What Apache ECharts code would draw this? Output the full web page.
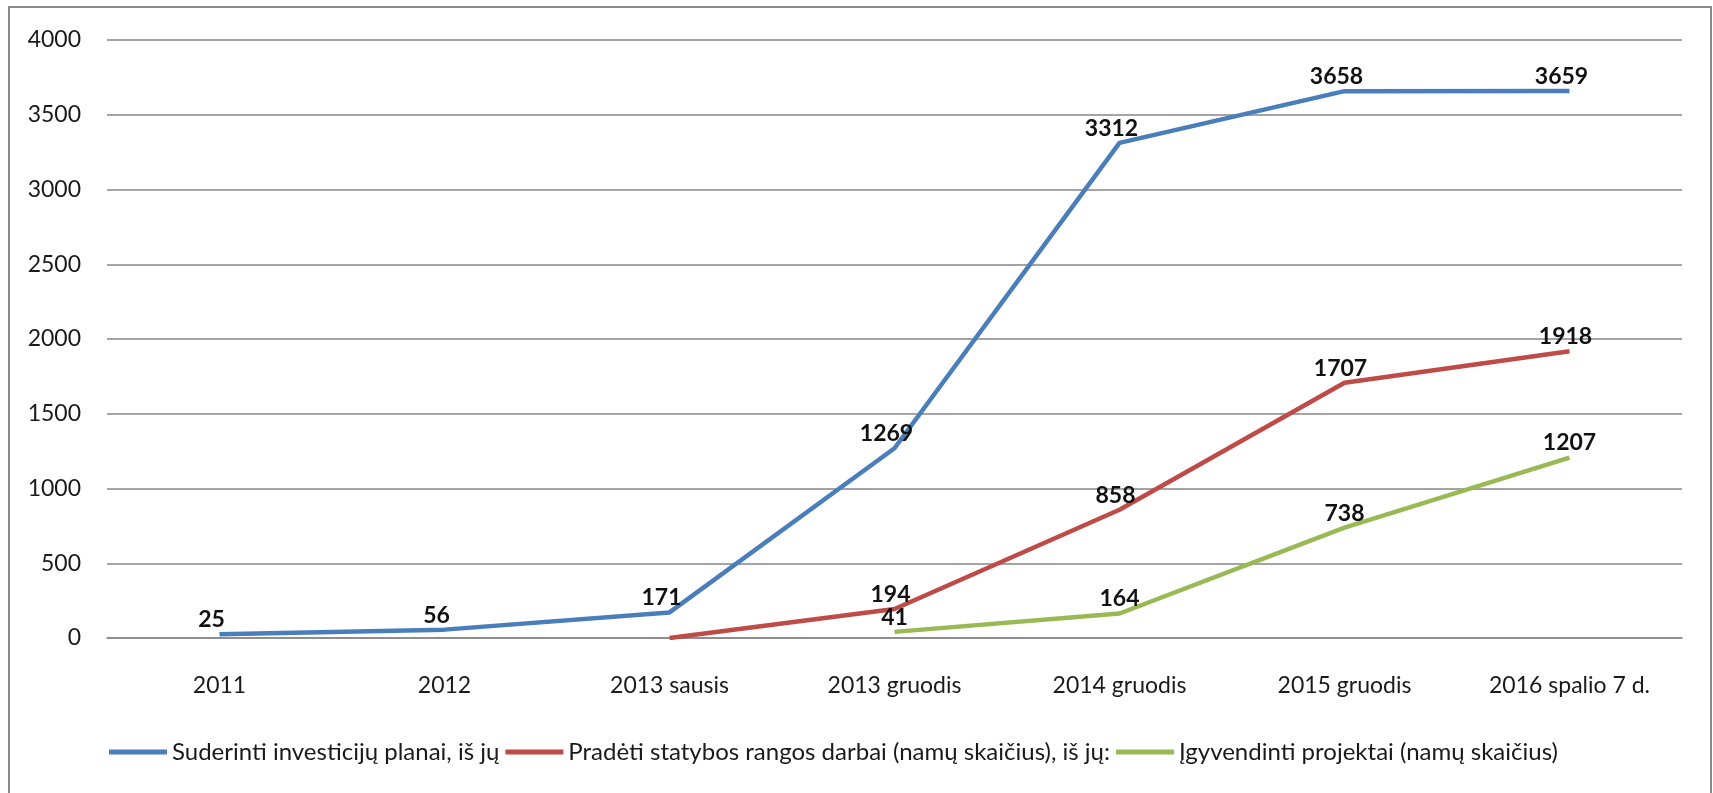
<!DOCTYPE html>
<html>
<head>
<meta charset="utf-8">
<script src="https://cdn.jsdelivr.net/npm/echarts@6/dist/echarts.min.js"></script>
<style>
html,body{margin:0;padding:0;background:#fff;}
#chart{width:1713px;height:793px;}
</style>
</head>
<body>
<div id="chart"></div>
<script>
const categories = ['2011', '2012', '2013 sausis', '2013 gruodis', '2014 gruodis', '2015 gruodis', '2016 spalio 7 d.'];
const seriesNames = [
  'Suderinti investicijų planai, iš jų',
  'Pradėti statybos rangos darbai (namų skaičius), iš jų:',
  'Įgyvendinti projektai (namų skaičius)'
];
const planai = [25, 56, 171, 1269, 3312, 3658, 3659];
const pradeti = [null, null, 0, 194, 858, 1707, 1918];
const igyvendinti = [null, null, null, 41, 164, 738, 1207];
const yTicks = [0, 500, 1000, 1500, 2000, 2500, 3000, 3500, 4000];

const colors = ['#4a7ebb', '#be4b48', '#98b954'];
const FONT = 'Lato, "Liberation Sans", sans-serif';

const chart = echarts.init(document.getElementById('chart'), null, {renderer: 'canvas'});

function mkSeries(name, data, color, offset) {
  return {
    name: name,
    type: 'line',
    data: data,
    symbol: 'circle',
    symbolSize: 0,
    showSymbol: true,
    connectNulls: false,
    lineStyle: {color: color, width: 4.5},
    itemStyle: {color: color},
    label: {
      show: true,
      position: 'top',
      distance: 3,
      offset: offset,
      color: '#111',
      fontFamily: FONT,
      fontWeight: 'bold',
      fontSize: 23,
      formatter: p => (p.value === 0 || p.value == null) ? '' : String(p.value)
    },
    emphasis: {disabled: true}
  };
}

chart.setOption({
  animation: false,
  backgroundColor: '#fff',
  grid: {left: 107, right: 31, top: 40, bottom: 155, containLabel: false},
  legend: {
    left: 104,
    top: 735,
    icon: 'rect',
    itemWidth: 58,
    itemHeight: 5,
    itemGap: 6,
    textStyle: {fontFamily: FONT, fontSize: 24, color: '#1a1a1a'},
    data: seriesNames
  },
  xAxis: {
    type: 'category',
    data: categories,
    boundaryGap: true,
    axisLine: {show: true, lineStyle: {color: '#868686', width: 1.5}},
    axisTick: {show: false},
    axisLabel: {fontFamily: FONT, fontSize: 23, color: '#1a1a1a', margin: 36, interval: 0}
  },
  yAxis: {
    type: 'value',
    min: yTicks[0],
    max: yTicks[yTicks.length - 1],
    interval: yTicks[1] - yTicks[0],
    axisLine: {show: false},
    axisTick: {show: false},
    axisLabel: {fontFamily: FONT, fontSize: 23, color: '#1a1a1a', margin: 26, formatter: v => String(v)},
    splitLine: {lineStyle: {color: '#868686', width: 1.5}}
  },
  series: [
    mkSeries(seriesNames[0], planai, colors[0], [-8, 0]),
    mkSeries(seriesNames[1], pradeti, colors[1], [-4, 0]),
    mkSeries(seriesNames[2], igyvendinti, colors[2], [0, 0])
  ],
  graphic: [{
    type: 'rect',
    shape: {x: 9, y: 7, width: 1702, height: 820},
    style: {fill: 'none', stroke: '#8a8a8a', lineWidth: 2},
    silent: true,
    z: 100
  }]
});
</script>
</body>
</html>
